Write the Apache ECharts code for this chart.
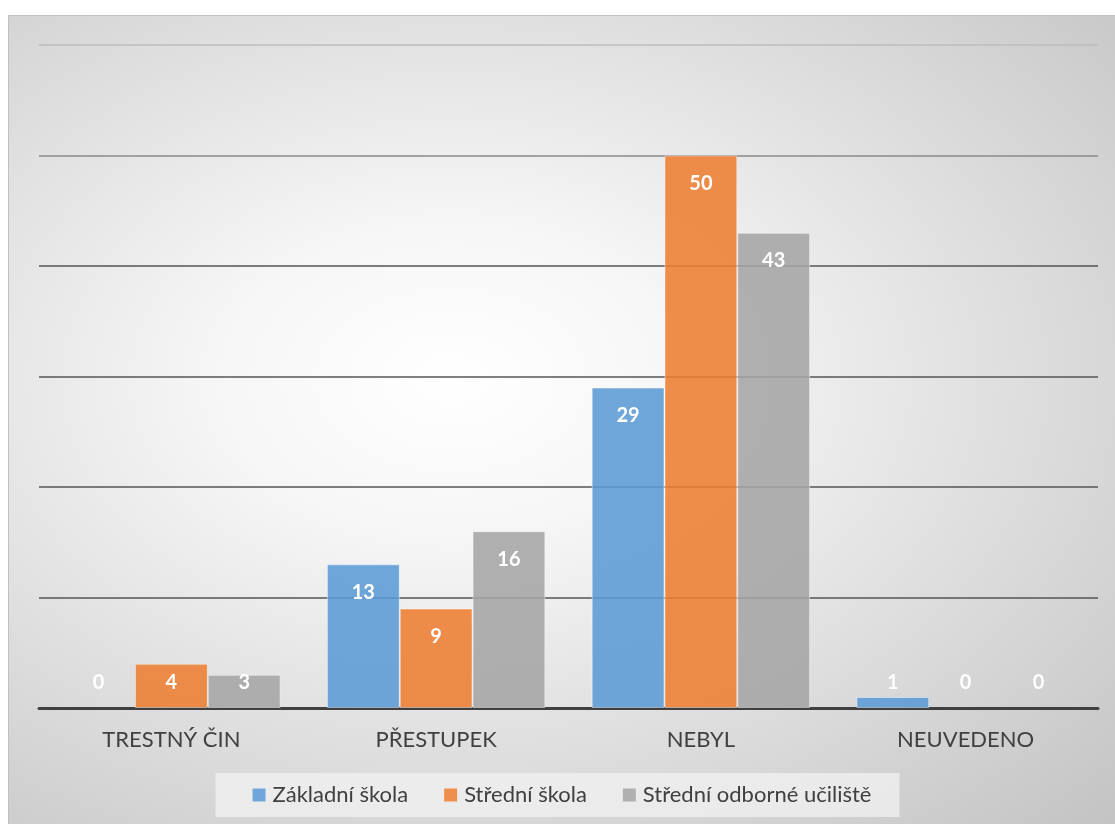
<!DOCTYPE html>
<html>
<head>
<meta charset="utf-8">
<script src="https://cdn.jsdelivr.net/npm/echarts@6/dist/echarts.min.js"></script>
<style>
html,body{margin:0;padding:0;background:#fff;width:1115px;height:824px;overflow:hidden;}
#box{position:absolute;left:8px;top:15px;width:1107px;height:809px;
 background:radial-gradient(ellipse farthest-corner at 40% 45%, #ffffff 0%, #f6f6f6 25%, #c3c3c3 100%);
 border-left:1px solid #c0c0c0;border-top:1px solid #c0c0c0;box-sizing:border-box;}
#chart{width:100%;height:100%;}
</style>
</head>
<body>
<div id="box"><div id="chart"></div></div>
<script>
const categories = ['TRESTNÝ ČIN', 'PŘESTUPEK', 'NEBYL', 'NEUVEDENO'];
const seriesNames = ['Základní škola', 'Střední škola', 'Střední odborné učiliště'];
const zakladni = [0, 13, 29, 1];
const stredni = [4, 9, 50, 0];
const uciliste = [3, 16, 43, 0];
const colors = ['rgba(91,155,213,0.88)', 'rgba(237,125,49,0.88)', 'rgba(165,165,165,0.88)'];
const legendColors = ['#70a6db', '#ef8f4e', '#b0b0b0'];

const FONT = 'Lato, "Open Sans", sans-serif';

function mkData(arr) {
  return arr.map(v => {
    const small = v < 6;
    return {
      value: v,
      itemStyle: v === 0 ? {borderWidth: 0} : undefined,
      label: small
        ? {position: 'insideBottom', distance: 15}
        : {position: 'insideTop', distance: 18}
    };
  });
}

const chart = echarts.init(document.getElementById('chart'), null, {renderer: 'canvas'});
const dataSets = [zakladni, stredni, uciliste];
chart.setOption({
  backgroundColor: 'transparent',
  animation: false,
  grid: {left: 30, right: 17, top: 29, bottom: 116, containLabel: false},
  legend: {
    bottom: 7,
    left: 'center',
    itemWidth: 13,
    itemHeight: 13,
    itemGap: 36,
    padding: [11, 28, 11, 37],
    backgroundColor: 'rgba(242,242,242,0.75)',
    textStyle: {fontFamily: FONT, fontSize: 22, color: '#404040', padding: [0, 0, 0, 2]},
    data: seriesNames.map((n, i) => ({name: n, icon: 'rect', itemStyle: {color: legendColors[i], borderWidth: 0}}))
  },
  xAxis: {
    type: 'category',
    data: categories,
    axisLine: {lineStyle: {color: '#404040', width: 3}},
    axisTick: {show: false},
    axisLabel: {fontFamily: FONT, fontSize: 22, color: '#404040', margin: 21}
  },
  yAxis: {
    type: 'value',
    min: 0, max: 60, interval: 10,
    axisLabel: {show: false},
    axisLine: {show: false},
    axisTick: {show: false},
    splitLine: {lineStyle: {color: ['#404040', '#555555', '#555555', '#555555', '#555555', '#8a8a8a', '#bdbdbd'], width: 1.6}}
  },
  series: dataSets.map((d, i) => ({
    name: seriesNames[i],
    type: 'bar',
    data: mkData(d),
    barGap: '0%',
    barCategoryGap: '17.5%',
    itemStyle: {color: colors[i], borderColor: 'rgba(255,255,255,0.45)', borderWidth: 1},
    label: {show: true, color: '#ffffff', fontFamily: FONT, fontWeight: 'bold', fontSize: 20}
  }))
});
</script>
</body>
</html>
